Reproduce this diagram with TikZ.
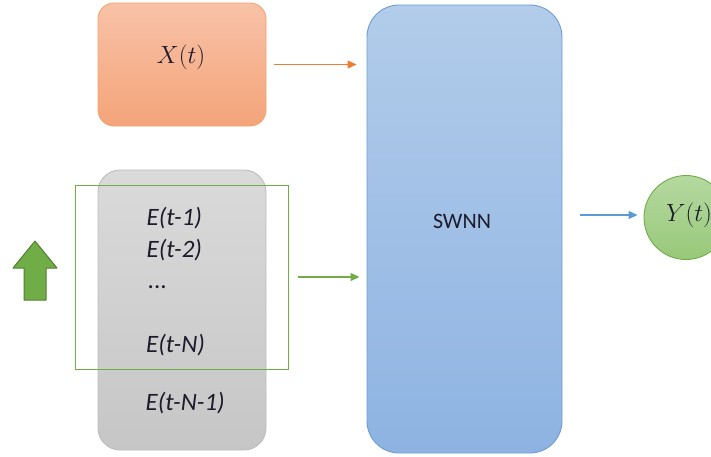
\documentclass[tikz,border=0pt]{standalone}
\usepackage{fontspec}
\setmainfont{Carlito}
\usetikzlibrary{arrows.meta}
\definecolor{orfillA}{HTML}{F8C2A8}
\definecolor{orfillB}{HTML}{F4A479}
\definecolor{ordraw}{HTML}{F4A46E}
\definecolor{orarrow}{HTML}{ED7D31}
\definecolor{grfillA}{HTML}{DADADA}
\definecolor{grfillB}{HTML}{C6C6C6}
\definecolor{grdraw}{HTML}{BDBDBD}
\definecolor{gnline}{HTML}{70AD47}
\definecolor{gndark}{HTML}{507E32}
\definecolor{blfillA}{HTML}{B2CCEA}
\definecolor{blfillB}{HTML}{8EB3E2}
\definecolor{bldraw}{HTML}{6F9DD3}
\definecolor{blarrow}{HTML}{5B9BD5}
\definecolor{gcfillA}{HTML}{B5D9A0}
\definecolor{gcfillB}{HTML}{98C87A}
\definecolor{txt}{HTML}{1C1C2C}
\tikzset{
  box/.style={rounded corners=#1, line width=0.9pt, inner sep=0pt},
  etext/.style={text=txt, font=\fontsize{25}{29}\selectfont\itshape, anchor=base west, inner sep=0pt},
  conn/.style={line width=1.1pt, -{Triangle[length=9pt,width=8pt]}}
}
\begin{document}
\begin{tikzpicture}[x=1pt,y=-1pt]
\useasboundingbox (0,0) rectangle (711,456);
% orange input box
\node[box=16, draw=ordraw, top color=orfillA, bottom color=orfillB,
      minimum width=168pt, minimum height=123pt] (xbox) at (182,64.5) {};
\node[text=txt, font=\fontsize{23}{27}\selectfont] (xlabel) at (181,57.5) {$X(t)$};
% gray box
\node[box=22, draw=grdraw, top color=grfillA, bottom color=grfillB,
      minimum width=168pt, minimum height=280pt] (gbox) at (182,310) {};
% green window
\node[draw=gnline, line width=0.9pt, minimum width=213pt, minimum height=184pt, inner sep=0pt] (win) at (181.5,277) {};
% texts
\node[etext] (e1) at (146.5,225.7) {E(t-1)};
\node[etext] (e2) at (146.5,257) {E(t-2)};
\node[etext] (edots) at (148,288) {...};
\node[etext] (en) at (146,352.7) {E(t-N)};
\node[etext] (en1) at (145.5,410.7) {E(t-N-1)};
% SWNN box
\node[box=32, draw=bldraw, top color=blfillA, bottom color=blfillB,
      minimum width=195pt, minimum height=448pt] (swnn) at (464.5,229) {};
\node[text=txt, font=\fontsize{22}{26}\selectfont, anchor=base, inner sep=0pt] (swnnlabel) at (462,228) {SWNN};
% output circle
\node[circle, draw=gnline, line width=0.9pt, top color=gcfillA, bottom color=gcfillB,
      minimum size=84pt, inner sep=0pt] (ycirc) at (686,217.5) {};
\node[text=txt, font=\fontsize{23}{27}\selectfont] (ylabel) at (689,215) {$Y(t)$};
% connectors
\coordinate (ystart) at (580,215);
\draw[conn, draw=blarrow, fill=blarrow, shorten >=6pt] (ystart) -- (ycirc.west |- ystart);
\coordinate (xa) at (xbox.east);
\draw[conn, draw=orarrow, fill=orarrow, shorten <=8pt, shorten >=10pt] (xa) -- (xa -| swnn.west);
\coordinate (wa) at (win.east);
\draw[conn, draw=gnline, fill=gnline, shorten <=10pt, shorten >=7pt] (wa) -- (wa -| swnn.west);
% block arrow (up)
\draw[draw=gndark, fill=gnline, line width=1pt, line join=round]
  (35,241) -- (57,268) -- (46,268) -- (46,300) -- (24,300) -- (24,268) -- (13,268) -- cycle;
\end{tikzpicture}
\end{document}
